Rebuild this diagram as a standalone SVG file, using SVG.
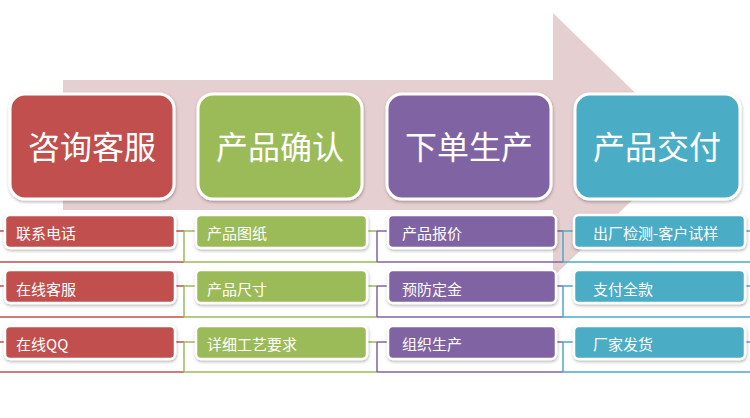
<svg xmlns="http://www.w3.org/2000/svg" width="750" height="418" viewBox="0 0 750 418">
<defs>
<filter id="sh" x="-10%" y="-20%" width="120%" height="140%">
<feDropShadow dx="0.5" dy="1.5" stdDeviation="1.5" flood-color="#000" flood-opacity="0.3"/>
</filter>
<style>
.main{stroke:#fff;stroke-width:3;filter:url(#sh)}
.sub{stroke:#fff;stroke-width:2.5;filter:url(#sh)}
.red{fill:#c0504d}.grn{fill:#9bbb59}.pur{fill:#8064a2}.tea{fill:#4bacc6}
.t1{font-family:"Noto Sans CJK SC","Noto Sans",sans-serif;font-size:32px;fill:#fff;text-anchor:middle}
.t2{font-family:"Noto Sans CJK SC","Noto Sans",sans-serif;font-size:15px;fill:#fff}
.l{fill:none;stroke-width:1.5}
.lr{stroke:#c0504d}.lg{stroke:#9bbb59}.lp{stroke:#8064a2}.lt{stroke:#4bacc6}
</style>
</defs>
<rect width="750" height="418" fill="#fff"/>
<g id="bigArrow">
<polygon points="63,80 553,80 553,13 689,145 553,277 553,210 63,210" fill="#e6cfd0"/>
</g>
<g id="connectors">
<g id="c-row1">
<path class="l lr" d="M0,231H5M0,262H184M175,231H184"/>
<path class="l lg" d="M184,231V262M184,231H196M184,262H377M367,231H377"/>
<path class="l lp" d="M377,231V262M377,231H388M377,262H563M556,231H563"/>
<path class="l lt" d="M563,231V262M563,231H574M563,262H750M745,231H750"/>
</g>
<g id="c-row2">
<path class="l lr" d="M0,286H5M0,317H184M175,286H184"/>
<path class="l lg" d="M184,286V317M184,286H196M184,317H377M367,286H377"/>
<path class="l lp" d="M377,286V317M377,286H388M377,317H563M556,286H563"/>
<path class="l lt" d="M563,286V317M563,286H574M563,317H750M745,286H750"/>
</g>
<g id="c-row3">
<path class="l lr" d="M0,342H5M0,372H184M175,342H184"/>
<path class="l lg" d="M184,342V372M184,342H196M184,372H377M367,342H377"/>
<path class="l lp" d="M377,342V372M377,342H388M377,372H563M556,342H563"/>
<path class="l lt" d="M563,342V372M563,342H574M563,372H750M745,342H750"/>
</g>
</g>
<g id="n-zixun"><rect class="main red" x="10" y="94" width="164" height="105" rx="15"/><text class="t1" x="92" y="159">咨询客服</text></g>
<g id="n-queren"><rect class="main grn" x="198" y="94" width="164" height="105" rx="15"/><text class="t1" x="280" y="159">产品确认</text></g>
<g id="n-shengchan"><rect class="main pur" x="387" y="94" width="164" height="105" rx="15"/><text class="t1" x="469" y="159">下单生产</text></g>
<g id="n-jiaofu"><rect class="main tea" x="575" y="94" width="165" height="105" rx="15"/><text class="t1" x="657" y="159">产品交付</text></g>

<g id="s-r1"><rect class="sub red" x="5" y="215" width="170" height="33" rx="5"/><text class="t2" x="16" y="239">联系电话</text></g>
<g id="s-r2"><rect class="sub red" x="5" y="270" width="170" height="33" rx="5"/><text class="t2" x="16" y="294.5">在线客服</text></g>
<g id="s-r3"><rect class="sub red" x="5" y="326" width="170" height="33" rx="5"/><text class="t2" x="16" y="350">在线QQ</text></g>

<g id="s-g1"><rect class="sub grn" x="196" y="215" width="171" height="33" rx="5"/><text class="t2" x="207" y="239">产品图纸</text></g>
<g id="s-g2"><rect class="sub grn" x="196" y="270" width="171" height="33" rx="5"/><text class="t2" x="207" y="294.5">产品尺寸</text></g>
<g id="s-g3"><rect class="sub grn" x="196" y="326" width="171" height="33" rx="5"/><text class="t2" x="207" y="350">详细工艺要求</text></g>

<g id="s-p1"><rect class="sub pur" x="388" y="215" width="168" height="33" rx="5"/><text class="t2" x="402" y="239">产品报价</text></g>
<g id="s-p2"><rect class="sub pur" x="388" y="270" width="168" height="33" rx="5"/><text class="t2" x="402" y="294.5">预防定金</text></g>
<g id="s-p3"><rect class="sub pur" x="388" y="326" width="168" height="33" rx="5"/><text class="t2" x="402" y="350">组织生产</text></g>

<g id="s-t1"><rect class="sub tea" x="574" y="215" width="171" height="33" rx="5"/><text class="t2" x="593" y="239">出厂检测-客户试样</text></g>
<g id="s-t2"><rect class="sub tea" x="574" y="270" width="171" height="33" rx="5"/><text class="t2" x="593" y="294.5">支付全款</text></g>
<g id="s-t3"><rect class="sub tea" x="574" y="326" width="171" height="33" rx="5"/><text class="t2" x="593" y="350">厂家发货</text></g>
</svg>
